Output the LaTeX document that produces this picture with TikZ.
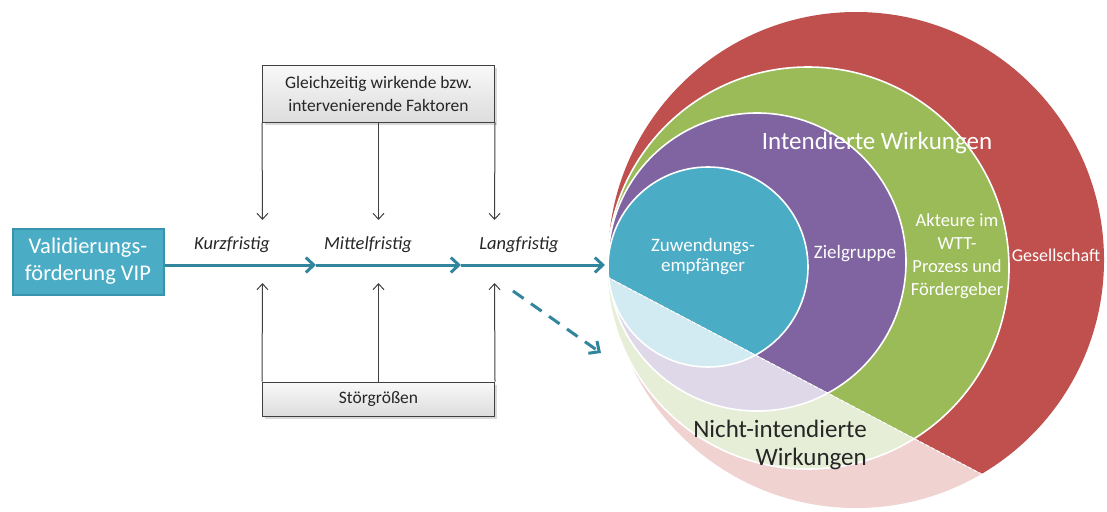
\documentclass[tikz,border=0pt]{standalone}
\usepackage{fontspec}
\setmainfont{Carlito}
\usetikzlibrary{arrows.meta,shadows}
\definecolor{cred}{HTML}{C0504D}
\definecolor{cgreen}{HTML}{9BBB59}
\definecolor{cpurple}{HTML}{8064A2}
\definecolor{ccyan}{HTML}{4BACC6}
\definecolor{lred}{HTML}{F0D2D1}
\definecolor{lgreen}{HTML}{E6EED7}
\definecolor{lpurple}{HTML}{DFD8E8}
\definecolor{lcyan}{HTML}{D2EAF1}
\definecolor{arrteal}{HTML}{31859C}
\definecolor{boxedge}{HTML}{3A93AD}
\definecolor{txtdark}{HTML}{262626}
\tikzset{
  facbox/.style={draw=black!75, line width=1pt, top color=gray!5, bottom color=gray!27,
    drop shadow={shadow xshift=2pt, shadow yshift=-3pt, opacity=0.3},
    align=center, text=txtdark, inner sep=0pt, minimum width=232pt,
    font=\fontsize{17.5}{23}\selectfont},
  vipbox/.style={draw=boxedge, line width=2pt, fill=ccyan, text=white, align=center,
    minimum width=151pt, minimum height=66pt, inner sep=0pt,
    font=\fontsize{22.5}{27}\selectfont},
  termlbl/.style={text=txtdark, font=\fontsize{18.5}{20}\selectfont\itshape, inner sep=0pt},
  mainarr/.style={draw=arrteal, line width=3pt, -{Straight Barb[length=8pt,width=15pt]}},
  dasharr/.style={draw=arrteal, line width=3pt, dash pattern=on 13pt off 9pt,
    -{Straight Barb[length=8pt,width=15pt]}},
  vart/.style={draw=black!75, line width=1pt, -{Straight Barb[length=6pt,width=11pt]}},
  ringtxt/.style={text=white, align=center, inner sep=0pt},
  ringline/.style={draw=white, line width=1.6pt},
}
\begin{document}
\begin{tikzpicture}[x=1pt,y=-1pt]
\useasboundingbox (0,0) rectangle (1107,511);

% ---------- circles (intended part) ----------
\fill[cred] (856,260) circle[radius=248];
\filldraw[ringline, fill=cgreen] (808,268) circle[radius=201];
\filldraw[ringline, fill=cpurple] (757,262) circle[radius=149];
\filldraw[ringline, fill=ccyan] (708,267) circle[radius=100];

% ---------- circles (non-intended part) ----------
\begin{scope}
  \clip (560,252) -- (1110,541.5) -- (1110,620) -- (560,620) -- cycle;
  \fill[white] (856,260) circle[radius=250];
  \fill[lred] (856,260) circle[radius=248];
  \filldraw[ringline, fill=lgreen] (808,268) circle[radius=201];
  \filldraw[ringline, fill=lpurple] (757,262) circle[radius=149];
  \filldraw[ringline, fill=lcyan] (708,267) circle[radius=100];
\end{scope}
\draw[white, line width=1pt, dash pattern=on 4pt off 2pt] (607,277) -- (987,477);

% ---------- circle texts ----------
\node[ringtxt, font=\fontsize{25}{28}\selectfont] (intend) at (877,143) {Intendierte Wirkungen};
\node[ringtxt, font=\fontsize{19}{20}\selectfont] (zuw) at (703,257) {Zuwendungs-\\empfänger};
\node[ringtxt, font=\fontsize{19}{20}\selectfont] (ziel) at (855,254) {Zielgruppe};
\node[ringtxt, font=\fontsize{18.5}{23}\selectfont] (akt) at (957,256) {Akteure im\\WTT-\\Prozess und\\Fördergeber};
\node[ringtxt, font=\fontsize{18}{20}\selectfont] (ges) at (1056,255) {Gesellschaft};
\node[text=txtdark, align=right, inner sep=0pt, anchor=east, font=\fontsize{25}{28}\selectfont] (nicht) at (867,445) {Nicht-intendierte\\Wirkungen};

% ---------- left part ----------
\node[vipbox] (vip) at (88,261.5) {Validierungs-\\förderung VIP};
\node[facbox, minimum height=57pt] (fak) at (378.5,93.5) {Gleichzeitig wirkende bzw.\\intervenierende Faktoren};
\node[facbox, minimum height=34pt] (stoer) at (378.5,399) {Störgrößen};

\node[termlbl] (kurz) at (232,245) {Kurzfristig};
\node[termlbl] (mittel) at (368,245) {Mittelfristig};
\node[termlbl] (lang) at (519,245) {Langfristig};

\coordinate (a1) at (316,265);
\coordinate (a2) at (461,265);
\coordinate (a3) at (605,265);
\draw[mainarr] (vip.east |- a1) -- (a1);
\draw[mainarr] (a1) -- (a2);
\draw[mainarr] (a2) -- (a3);

\coordinate (d1) at (513,291);
\coordinate (d2) at (601,353);
\draw[dasharr] (d1) -- (d2);

\coordinate (k1) at (262.5,220);
\coordinate (k2) at (378.5,220);
\coordinate (k3) at (494.5,220);
\coordinate (m1) at (262.5,283);
\coordinate (m2) at (378.5,283);
\coordinate (m3) at (494.5,283);
\draw[vart] (fak.south west) -- (k1);
\draw[vart] (fak.south) -- (k2);
\draw[vart] (fak.south east) -- (k3);
\draw[vart] (stoer.north west) -- (m1);
\draw[vart] (stoer.north) -- (m2);
\draw[vart] (stoer.north east) -- (m3);
\end{tikzpicture}
\end{document}
